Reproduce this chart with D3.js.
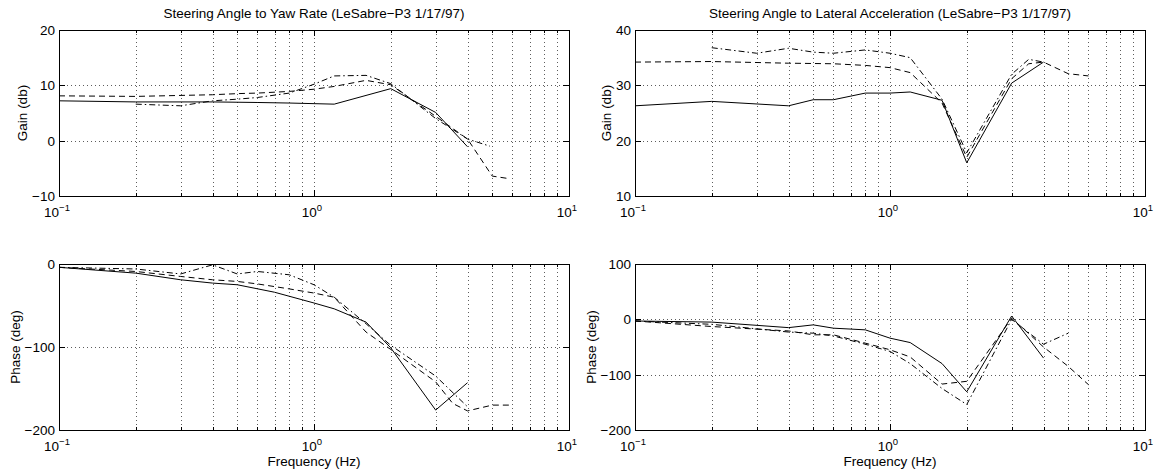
<!DOCTYPE html>
<html>
<head>
<meta charset="utf-8">
<script src="https://cdn.jsdelivr.net/npm/d3@7"></script>
<style>
  html, body { margin: 0; padding: 0; background: #fff; }
  svg { display: block; font-family: "Liberation Sans", Arial, Helvetica, sans-serif; }
</style>
</head>
<body>
<svg id="chart" width="1155" height="471"></svg>
<script>
// ---------------- DATA ----------------
const titles = ["Steering Angle to Yaw Rate (LeSabre\u2212P3 1/17/97)",
                "Steering Angle to Lateral Acceleration (LeSabre\u2212P3 1/17/97)"];
const xLabel = "Frequency (Hz)";
const gainLabel = "Gain (db)";
const phaseLabel = "Phase (deg)";
const xTickExps = [-1, 0, 1];

const yawGainTicks = [-10, 0, 10, 20];
const latGainTicks = [10, 20, 30, 40];
const yawPhaseTicks = [-200, -100, 0];
const latPhaseTicks = [-200, -100, 0, 100];

// [frequency Hz, value]
const yawGainSolid = [[0.1,7.2],[0.2,7.0],[0.4,7.0],[0.6,6.9],[0.8,6.8],[1.2,6.6],[2,9.4],[3,5.1],[4,-1.1]];
const yawGainDash = [[0.1,8.1],[0.2,8.0],[0.4,8.3],[0.5,8.5],[0.6,8.6],[0.8,8.9],[1.0,9.3],[1.2,9.8],[1.6,10.9],[2,10.1],[3,4.4],[4,0.3],[5,-6.4],[5.7,-6.8]];
const yawGainDashDot = [[0.2,6.6],[0.3,6.3],[0.4,7.2],[0.5,7.5],[0.6,7.8],[0.8,8.6],[1.0,10.2],[1.2,11.7],[1.6,11.8],[2,10.3],[3,4.0],[4,0.3],[4.9,-1.0]];

const latGainSolid = [[0.1,26.3],[0.2,27.1],[0.4,26.3],[0.5,27.4],[0.6,27.4],[0.8,28.6],[1.0,28.6],[1.2,28.8],[1.6,27.3],[2,16.0],[3,30.4],[4,34.2]];
const latGainDash = [[0.1,34.2],[0.2,34.3],[0.4,34.0],[0.6,33.9],[0.8,33.6],[1.0,33.2],[1.2,32.3],[1.6,26.8],[2,17.0],[3,31.2],[3.5,33.9],[4,34.2],[5,32.1],[6,31.7]];
const latGainDashDot = [[0.2,36.8],[0.3,35.8],[0.4,36.7],[0.5,36.0],[0.6,35.8],[0.8,36.4],[1.0,35.8],[1.2,35.0],[1.6,27.5],[2,17.8],[3,32.0],[3.5,34.7],[4,34.2]];

const yawPhaseSolid = [[0.1,-4],[0.2,-11],[0.3,-19],[0.4,-23],[0.5,-25],[0.7,-34],[1.0,-47],[1.2,-54],[1.6,-70],[2,-101],[3,-176],[4,-143]];
const yawPhaseDash = [[0.1,-4],[0.2,-9],[0.3,-15],[0.4,-19],[0.5,-21],[0.6,-24],[0.8,-30],[1.0,-35],[1.2,-40],[1.6,-82],[2,-103],[3,-142],[3.5,-168],[4,-177],[5,-170],[6,-170]];
const yawPhaseDashDot = [[0.1,-4],[0.2,-6],[0.3,-12],[0.4,-1],[0.5,-12],[0.6,-9],[0.8,-13],[1.0,-25],[1.2,-40],[1.6,-72],[2,-98],[3,-135],[4,-172]];

const latPhaseSolid = [[0.1,-3],[0.2,-5],[0.4,-15],[0.5,-10],[0.6,-16],[0.8,-19],[1.0,-34],[1.2,-42],[1.6,-80],[2,-131],[3,6],[4,-70]];
const latPhaseDash = [[0.1,-3],[0.2,-13],[0.4,-21],[0.5,-28],[0.6,-28],[0.8,-43],[1.0,-55],[1.2,-68],[1.6,-117],[2,-112],[3,2],[4,-50],[5,-85],[6,-118]];
const latPhaseDashDot = [[0.1,-3],[0.2,-9],[0.4,-23],[0.5,-25],[0.6,-30],[0.8,-45],[1.0,-58],[1.2,-80],[1.6,-125],[2,-154],[3,0],[4,-45],[5,-25]];

// ---------------- LAYOUT ----------------
const W = 510, H = 166, FS = 13.5;
const panels = [
  {x: 59,  y: 30,  yDom: [-10, 20],  ticks: yawGainTicks,  ylab: gainLabel,  title: titles[0], xlab: false,
   series: [yawGainSolid, yawGainDash, yawGainDashDot]},
  {x: 635, y: 30,  yDom: [10, 40],   ticks: latGainTicks,  ylab: gainLabel,  title: titles[1], xlab: false,
   series: [latGainSolid, latGainDash, latGainDashDot]},
  {x: 59,  y: 264, yDom: [-200, 0],  ticks: yawPhaseTicks, ylab: phaseLabel, title: null, xlab: true,
   series: [yawPhaseSolid, yawPhaseDash, yawPhaseDashDot]},
  {x: 635, y: 264, yDom: [-200, 100],ticks: latPhaseTicks, ylab: phaseLabel, title: null, xlab: true,
   series: [latPhaseSolid, latPhaseDash, latPhaseDashDot]}
];
const styles = [null, "6,4", "6,3,1.5,3"];

const svg = d3.select("#chart");
const x = d3.scaleLog().domain([0.1, 10]).range([0, W]);
const xMinor = [];
[0.1, 1].forEach(d => { for (let k = 2; k <= 9; k++) xMinor.push(d * k); });
const xMajor = xTickExps.map(e => Math.pow(10, e));

panels.forEach(p => {
  const y = d3.scaleLinear().domain(p.yDom).range([H, 0]);
  const g = svg.append("g").attr("transform", `translate(${p.x},${p.y})`);

  // grid
  const gridX = xMinor.concat(xMajor.filter(v => v > 0.1 && v < 10));
  g.selectAll(".gx").data(gridX).enter().append("line")
    .attr("x1", d => Math.round(x(d)) + 0.5).attr("x2", d => Math.round(x(d)) + 0.5)
    .attr("y1", 0).attr("y2", H)
    .attr("stroke", "#333").attr("stroke-width", 0.8).attr("stroke-dasharray", "1,3");
  g.selectAll(".gy").data(p.ticks.filter(v => v > p.yDom[0] && v < p.yDom[1])).enter().append("line")
    .attr("x1", 0).attr("x2", W)
    .attr("y1", d => Math.round(y(d)) + 0.5).attr("y2", d => Math.round(y(d)) + 0.5)
    .attr("stroke", "#333").attr("stroke-width", 0.8).attr("stroke-dasharray", "1,3");

  // ticks (inside)
  const tk = g.append("g").attr("stroke", "#000").attr("stroke-width", 1);
  xMinor.forEach(v => {
    const px = Math.round(x(v)) + 0.5;
    tk.append("line").attr("x1", px).attr("x2", px).attr("y1", H).attr("y2", H - 3);
    tk.append("line").attr("x1", px).attr("x2", px).attr("y1", 0).attr("y2", 3);
  });
  xMajor.forEach(v => {
    const px = Math.round(x(v)) + 0.5;
    tk.append("line").attr("x1", px).attr("x2", px).attr("y1", H).attr("y2", H - 6);
    tk.append("line").attr("x1", px).attr("x2", px).attr("y1", 0).attr("y2", 6);
  });
  p.ticks.forEach(v => {
    const py = Math.round(y(v)) + 0.5;
    tk.append("line").attr("x1", 0).attr("x2", 6).attr("y1", py).attr("y2", py);
    tk.append("line").attr("x1", W).attr("x2", W - 6).attr("y1", py).attr("y2", py);
  });

  // series
  const line = d3.line().x(d => x(d[0])).y(d => y(d[1]));
  p.series.forEach((s, i) => {
    g.append("path").datum(s).attr("d", line)
      .attr("fill", "none").attr("stroke", "#000").attr("stroke-width", 1)
      .attr("stroke-dasharray", styles[i]);
  });

  // frame
  g.append("rect").attr("x", 0.5).attr("y", 0.5).attr("width", W).attr("height", H)
    .attr("fill", "none").attr("stroke", "#000").attr("stroke-width", 1);

  // y tick labels
  let maxW = 0;
  g.selectAll(".yl").data(p.ticks).enter().append("text")
    .attr("x", -4).attr("y", d => y(d)).attr("dy", "0.36em")
    .attr("text-anchor", "end").attr("font-size", FS).text(d => d < 0 ? "\u2212" + Math.abs(d) : d)
    .each(function() { maxW = Math.max(maxW, this.getComputedTextLength()); });

  // x tick labels 10^n
  xTickExps.forEach(e => {
    const t = g.append("text").attr("x", x(Math.pow(10, e)) - 2).attr("y", H + 20.5)
      .attr("text-anchor", "middle").attr("font-size", FS);
    t.append("tspan").text("10");
    t.append("tspan").attr("dy", -6).attr("font-size", 9.5).text(e < 0 ? "\u2212" + Math.abs(e) : e);
  });

  // y label
  g.append("text").attr("transform", `translate(${-(4 + maxW + 5)},${H / 2}) rotate(-90)`)
    .attr("text-anchor", "middle").attr("font-size", FS).text(p.ylab);

  if (p.title) {
    g.append("text").attr("x", W / 2).attr("y", -12)
      .attr("text-anchor", "middle").attr("font-size", FS).text(p.title);
  }
  if (p.xlab) {
    g.append("text").attr("x", W / 2).attr("y", H + 36)
      .attr("text-anchor", "middle").attr("font-size", FS).text(xLabel);
  }
});
</script>
</body>
</html>
